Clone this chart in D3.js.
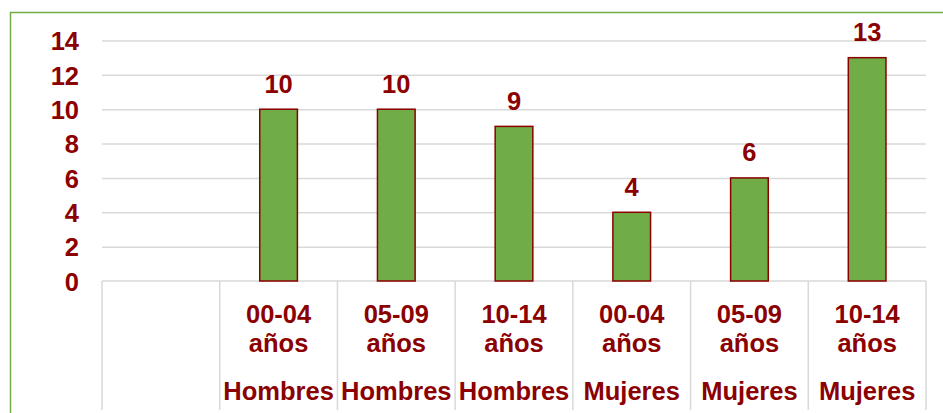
<!DOCTYPE html>
<html>
<head>
<meta charset="utf-8">
<script src="https://cdn.jsdelivr.net/npm/d3@7"></script>
<style>
  html, body { margin: 0; padding: 0; background: #fff; }
  svg { display: block; }
  text { font-family: "Liberation Sans", Arial, sans-serif; font-weight: bold; }
</style>
</head>
<body>
<svg id="chart" width="943" height="413"></svg>
<script>
// Category slots (the first slot is intentionally blank)
const ageGroups = ["", "00-04", "05-09", "10-14", "00-04", "05-09", "10-14"];
const ageUnit   = ["", "años", "años", "años", "años", "años", "años"];
const sexes     = ["", "Hombres", "Hombres", "Hombres", "Mujeres", "Mujeres", "Mujeres"];
const values    = [null, 10, 10, 9, 4, 6, 13];
const yTicks    = [0, 2, 4, 6, 8, 10, 12, 14];

const textColor = "#8B0000";
const barFill = "#70AD47";
const gridColor = "#D9D9D9";
const fontSize = "25.5px";

const svg = d3.select("#chart");
const W = 943, H = 413;
const plot = { left: 102, right: 926, top: 40.5, bottom: 281 };

// Outer frame
svg.append("rect")
  .attr("x", 10.5).attr("y", 12.5)
  .attr("width", W + 20).attr("height", H + 20)
  .attr("fill", "none").attr("stroke", barFill).attr("stroke-width", 1.5);

const keys = values.map((_, i) => i);
const x = d3.scaleBand().domain(keys).range([plot.left, plot.right]).padding(0);
const y = d3.scaleLinear().domain([0, 14]).range([plot.bottom, plot.top]);

// Horizontal gridlines
const grid = svg.append("g")
  .attr("transform", `translate(${plot.left},0)`)
  .call(d3.axisLeft(y).tickValues(yTicks.filter(t => t > 0))
    .tickSize(-(plot.right - plot.left)).tickFormat(""));
grid.select(".domain").remove();
grid.selectAll("line").attr("stroke", gridColor).attr("stroke-width", 1.5);

// Y tick labels
const yAxis = svg.append("g")
  .attr("transform", `translate(${79},0)`)
  .call(d3.axisLeft(y).tickValues(yTicks).tickSize(0).tickPadding(0));
yAxis.select(".domain").remove();
yAxis.selectAll("text")
  .attr("fill", textColor)
  .style("font-size", fontSize)
  .attr("dy", "0.36em");

// Category axis: baseline and slot dividers
svg.append("line")
  .attr("x1", plot.left).attr("x2", plot.right)
  .attr("y1", plot.bottom).attr("y2", plot.bottom)
  .attr("stroke", gridColor).attr("stroke-width", 1.5);
const dividers = keys.map(k => x(k)).concat([plot.right]);
svg.append("g").selectAll("line").data(dividers).join("line")
  .attr("x1", d => d).attr("x2", d => d)
  .attr("y1", plot.bottom).attr("y2", 410)
  .attr("stroke", gridColor).attr("stroke-width", 1.5);

// Bars
const barW = x.bandwidth() * 0.32;
const barData = keys.filter(k => values[k] != null);
svg.append("g").selectAll("rect").data(barData).join("rect")
  .attr("x", k => x(k) + (x.bandwidth() - barW) / 2)
  .attr("y", k => y(values[k]))
  .attr("width", barW)
  .attr("height", k => y(0) - y(values[k]))
  .attr("fill", barFill)
  .attr("stroke", textColor)
  .attr("stroke-width", 1.5);

// Value labels
svg.append("g").selectAll("text").data(barData).join("text")
  .attr("x", k => x(k) + x.bandwidth() / 2)
  .attr("y", k => y(values[k]) - 16.5)
  .attr("text-anchor", "middle")
  .attr("fill", textColor)
  .style("font-size", fontSize)
  .text(k => values[k]);

// Category labels (three lines)
const catG = svg.append("g").selectAll("g").data(keys).join("g")
  .attr("transform", k => `translate(${x(k) + x.bandwidth() / 2},0)`);
[[ageGroups, 322.5], [ageUnit, 351.5], [sexes, 399.5]].forEach(([arr, yy]) => {
  catG.append("text")
    .attr("y", yy)
    .attr("text-anchor", "middle")
    .attr("fill", textColor)
    .style("font-size", fontSize)
    .text(k => arr[k]);
});
</script>
</body>
</html>
